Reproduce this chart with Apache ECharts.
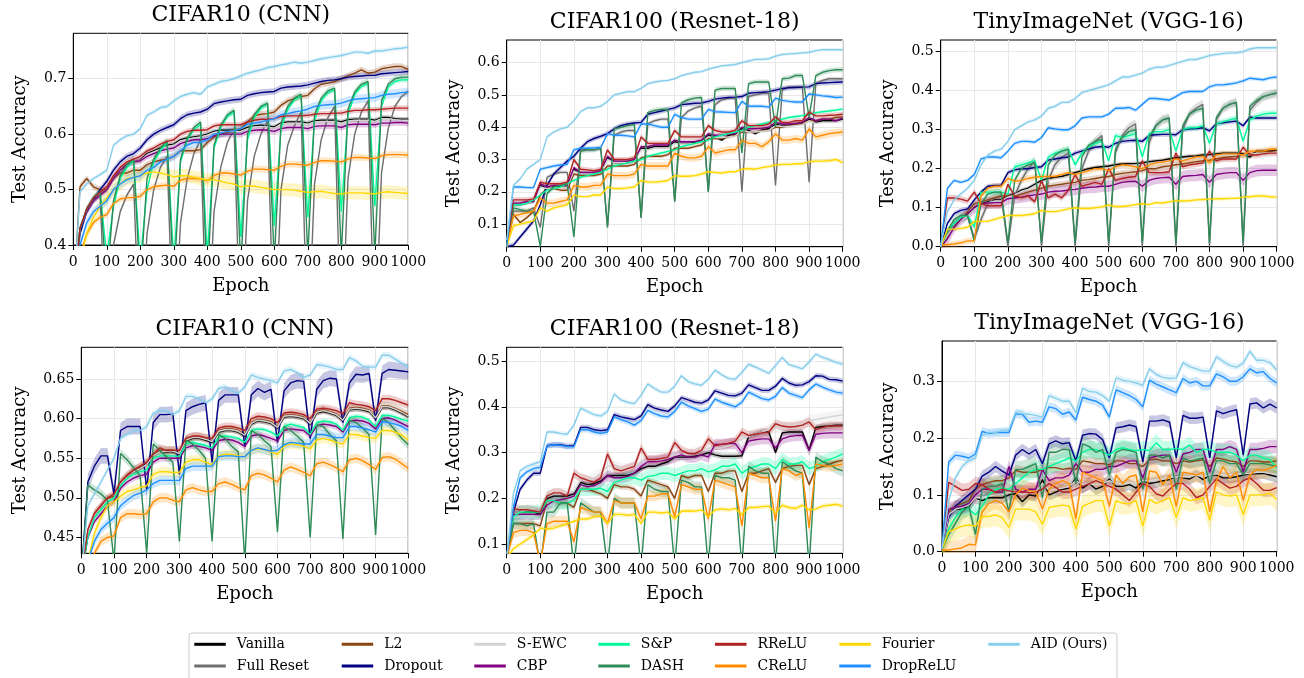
<!DOCTYPE html>
<html>
<head>
<meta charset="utf-8">
<title>Test accuracy over epochs</title>
<script src="https://cdn.jsdelivr.net/npm/echarts@6/dist/echarts.min.js"></script>
<style>
  html, body { margin: 0; padding: 0; background: #fff; }
  #chart { width: 1304px; height: 678px; }
</style>
</head>
<body>
<div id="chart"></div>
<script>
const FONT = "'DejaVu Serif', serif";

// x positions shared by every curve (one point every 20 epochs)
const EPOCHS = [0,20,40,60,80,100,120,140,160,180,200,220,240,260,280,300,320,340,360,380,
  400,420,440,460,480,500,520,540,560,580,600,620,640,660,680,700,720,740,760,780,
  800,820,840,860,880,900,920,940,960,980,1000];

const METHODS = ['Vanilla', 'Full Reset', 'L2', 'Dropout', 'S-EWC', 'CBP', 'S&P', 'DASH',
  'RReLU', 'CReLU', 'Fourier', 'DropReLU', 'AID (Ours)'];
const COLORS = ['#000000', '#6e6e6e', '#8b4513', '#000080', '#d3d3d3', '#800080', '#00fa9a', '#2e8b57',
  '#b22222', '#ff8c00', '#ffd700', '#1e90ff', '#87ceeb'];

// y tick labels per panel
const TL_Y_TICKS = [0.4, 0.5, 0.6, 0.7];
const TM_Y_TICKS = [0.1, 0.2, 0.3, 0.4, 0.5, 0.6];
const TR_Y_TICKS = [0.0, 0.1, 0.2, 0.3, 0.4, 0.5];
const BL_Y_TICKS = [0.45, 0.50, 0.55, 0.60, 0.65];
const BM_Y_TICKS = [0.1, 0.2, 0.3, 0.4, 0.5];
const BR_Y_TICKS = [0.0, 0.1, 0.2, 0.3];

// ---------- top row, CIFAR10 (CNN) ----------
const TL_VANILLA = [0.30,0.43,0.46,0.48,0.49,0.50,0.52,0.535,0.545,0.55,
  0.553,0.565,0.57,0.575,0.58,0.582,0.59,0.593,0.595,0.597,
  0.60,0.605,0.607,0.607,0.607,0.607,0.612,0.615,0.616,0.615,
  0.613,0.62,0.622,0.622,0.622,0.62,0.624,0.625,0.625,0.625,
  0.622,0.626,0.627,0.627,0.627,0.625,0.63,0.63,0.628,0.627,
  0.627];
const TL_FULL_RESET = [0.30,0.43,0.46,0.48,0.49,0.20,0.40,0.46,0.49,0.51,
  0.20,0.42,0.50,0.54,0.56,0.20,0.44,0.52,0.565,0.59,
  0.20,0.46,0.54,0.585,0.61,0.20,0.48,0.56,0.60,0.625,
  0.20,0.50,0.58,0.615,0.64,0.20,0.51,0.59,0.63,0.65,
  0.20,0.52,0.60,0.64,0.66,0.20,0.53,0.61,0.65,0.668,
  0.677];
const TL_L2 = [0.30,0.505,0.52,0.505,0.50,0.50,0.52,0.53,0.53,0.535,
  0.535,0.545,0.55,0.553,0.555,0.56,0.57,0.57,0.57,0.572,
  0.585,0.595,0.60,0.603,0.607,0.61,0.622,0.633,0.636,0.637,
  0.64,0.652,0.66,0.664,0.668,0.67,0.682,0.69,0.692,0.695,
  0.70,0.705,0.71,0.716,0.71,0.712,0.718,0.72,0.722,0.722,
  0.717];
const TL_DROPOUT = [0.30,0.42,0.46,0.48,0.50,0.515,0.535,0.55,0.56,0.565,
  0.575,0.59,0.60,0.607,0.612,0.617,0.628,0.635,0.638,0.64,
  0.645,0.655,0.658,0.66,0.662,0.663,0.67,0.673,0.675,0.676,
  0.677,0.683,0.685,0.686,0.687,0.689,0.692,0.695,0.697,0.698,
  0.70,0.703,0.704,0.705,0.706,0.706,0.709,0.71,0.711,0.712,
  0.713];
const TL_SEWC = [0.30,0.43,0.46,0.48,0.49,0.50,0.52,0.535,0.545,0.55,
  0.552,0.563,0.568,0.573,0.578,0.58,0.588,0.591,0.593,0.595,
  0.598,0.603,0.605,0.605,0.605,0.605,0.61,0.613,0.614,0.613,
  0.611,0.618,0.62,0.62,0.62,0.618,0.622,0.623,0.623,0.623,
  0.62,0.624,0.625,0.625,0.625,0.623,0.628,0.628,0.626,0.625,
  0.625];
const TL_CBP = [0.30,0.43,0.46,0.48,0.49,0.50,0.52,0.535,0.545,0.55,
  0.552,0.56,0.565,0.57,0.573,0.575,0.583,0.587,0.59,0.59,
  0.592,0.597,0.60,0.60,0.60,0.60,0.605,0.607,0.608,0.607,
  0.605,0.61,0.612,0.612,0.612,0.61,0.614,0.615,0.615,0.615,
  0.612,0.617,0.618,0.618,0.618,0.617,0.62,0.62,0.621,0.621,
  0.62];
const TL_SP = [0.30,0.43,0.465,0.485,0.495,0.38,0.47,0.52,0.54,0.552,
  0.37,0.50,0.55,0.57,0.585,0.37,0.55,0.59,0.608,0.618,
  0.38,0.575,0.612,0.632,0.64,0.415,0.59,0.63,0.647,0.654,
  0.435,0.61,0.645,0.662,0.669,0.45,0.625,0.66,0.675,0.68,
  0.46,0.635,0.672,0.686,0.692,0.47,0.65,0.685,0.695,0.698,
  0.698];
const TL_DASH = [0.30,0.43,0.465,0.485,0.497,0.33,0.48,0.525,0.545,0.555,
  0.33,0.52,0.555,0.575,0.588,0.33,0.555,0.592,0.612,0.622,
  0.33,0.58,0.616,0.635,0.643,0.36,0.60,0.635,0.65,0.656,
  0.37,0.62,0.65,0.665,0.672,0.38,0.635,0.665,0.678,0.683,
  0.38,0.645,0.676,0.69,0.695,0.38,0.66,0.69,0.70,0.703,
  0.703];
const TL_RRELU = [0.30,0.43,0.465,0.485,0.495,0.505,0.525,0.54,0.55,0.555,
  0.56,0.57,0.575,0.582,0.587,0.59,0.60,0.605,0.607,0.607,
  0.608,0.615,0.617,0.617,0.617,0.617,0.622,0.625,0.627,0.627,
  0.628,0.632,0.633,0.633,0.633,0.634,0.636,0.637,0.637,0.638,
  0.638,0.641,0.643,0.643,0.644,0.644,0.645,0.646,0.647,0.647,
  0.647];
const TL_CRELU = [0.30,0.38,0.42,0.44,0.45,0.455,0.475,0.483,0.485,0.486,
  0.488,0.50,0.505,0.507,0.508,0.506,0.517,0.52,0.52,0.519,
  0.516,0.525,0.53,0.53,0.528,0.526,0.533,0.537,0.537,0.536,
  0.535,0.542,0.546,0.546,0.545,0.544,0.549,0.552,0.552,0.551,
  0.55,0.555,0.558,0.558,0.557,0.556,0.561,0.563,0.563,0.563,
  0.562];
const TL_FOURIER = [0.30,0.37,0.42,0.45,0.47,0.485,0.50,0.51,0.52,0.522,
  0.525,0.53,0.532,0.53,0.527,0.523,0.525,0.525,0.522,0.52,
  0.517,0.518,0.515,0.512,0.51,0.505,0.507,0.506,0.504,0.502,
  0.50,0.50,0.50,0.499,0.497,0.495,0.496,0.497,0.495,0.493,
  0.492,0.494,0.494,0.494,0.493,0.492,0.495,0.496,0.495,0.494,
  0.493];
const TL_DROPRELU = [0.30,0.40,0.44,0.46,0.47,0.48,0.50,0.51,0.518,0.522,
  0.525,0.535,0.54,0.55,0.555,0.56,0.57,0.58,0.585,0.585,
  0.59,0.60,0.602,0.605,0.606,0.61,0.618,0.62,0.622,0.625,
  0.628,0.635,0.637,0.64,0.642,0.645,0.65,0.652,0.653,0.654,
  0.656,0.66,0.663,0.664,0.665,0.666,0.67,0.672,0.673,0.675,
  0.676];
const TL_AID = [0.30,0.496,0.51,0.52,0.527,0.535,0.58,0.59,0.597,0.60,
  0.61,0.634,0.64,0.648,0.65,0.66,0.668,0.672,0.675,0.672,
  0.685,0.69,0.695,0.697,0.70,0.705,0.71,0.713,0.716,0.72,
  0.722,0.725,0.727,0.73,0.728,0.73,0.733,0.736,0.738,0.74,
  0.742,0.745,0.748,0.748,0.746,0.75,0.75,0.752,0.754,0.755,
  0.757];
const TL_SPREAD = [0.004,0.004,0.006,0.006,0.004,0.006,0.005,0.006,0.005,0.006,0.012,0.008,0.004];

// ---------- top row, CIFAR100 (Resnet-18) ----------
const TM_VANILLA = [0.03,0.16,0.16,0.165,0.17,0.22,0.21,0.215,0.215,0.215,
  0.27,0.255,0.255,0.255,0.26,0.305,0.29,0.29,0.29,0.295,
  0.335,0.335,0.34,0.34,0.34,0.355,0.35,0.35,0.352,0.355,
  0.375,0.37,0.36,0.375,0.378,0.395,0.39,0.38,0.392,0.395,
  0.41,0.405,0.407,0.41,0.412,0.425,0.415,0.42,0.42,0.42,
  0.425];
const TM_FULL_RESET = [0.03,0.14,0.14,0.14,0.15,0.09,0.245,0.255,0.26,0.26,
  0.14,0.33,0.33,0.33,0.335,0.09,0.375,0.385,0.39,0.39,
  0.12,0.41,0.42,0.425,0.425,0.17,0.43,0.45,0.46,0.465,
  0.20,0.47,0.485,0.49,0.49,0.20,0.495,0.50,0.505,0.505,
  0.22,0.515,0.525,0.525,0.525,0.23,0.535,0.545,0.55,0.55,
  0.55];
const TM_L2 = [0.03,0.13,0.105,0.12,0.14,0.19,0.21,0.21,0.205,0.205,
  0.255,0.25,0.25,0.25,0.255,0.28,0.28,0.28,0.28,0.285,
  0.305,0.31,0.31,0.31,0.315,0.335,0.335,0.335,0.34,0.345,
  0.365,0.365,0.365,0.37,0.375,0.385,0.385,0.385,0.39,0.39,
  0.40,0.40,0.405,0.41,0.41,0.42,0.42,0.425,0.425,0.43,
  0.432];
const TM_DROPOUT = [0.03,0.035,0.06,0.085,0.11,0.16,0.22,0.255,0.275,0.295,
  0.31,0.335,0.355,0.365,0.372,0.38,0.395,0.405,0.41,0.413,
  0.415,0.44,0.445,0.45,0.455,0.46,0.47,0.472,0.474,0.475,
  0.48,0.487,0.49,0.492,0.493,0.495,0.505,0.507,0.508,0.51,
  0.515,0.52,0.522,0.523,0.524,0.525,0.535,0.537,0.538,0.539,
  0.54];
const TM_SEWC = [0.03,0.16,0.16,0.165,0.17,0.215,0.21,0.213,0.213,0.215,
  0.265,0.255,0.255,0.255,0.26,0.30,0.29,0.29,0.29,0.295,
  0.33,0.33,0.335,0.335,0.335,0.35,0.348,0.348,0.35,0.353,
  0.37,0.368,0.368,0.37,0.373,0.39,0.385,0.385,0.388,0.39,
  0.405,0.402,0.402,0.405,0.408,0.42,0.412,0.415,0.415,0.415,
  0.42];
const TM_CBP = [0.03,0.165,0.165,0.17,0.17,0.225,0.215,0.22,0.22,0.22,
  0.275,0.26,0.26,0.26,0.265,0.31,0.295,0.295,0.295,0.30,
  0.34,0.34,0.345,0.345,0.345,0.36,0.355,0.355,0.356,0.36,
  0.38,0.375,0.375,0.378,0.38,0.40,0.395,0.395,0.397,0.40,
  0.415,0.41,0.41,0.412,0.415,0.43,0.42,0.425,0.425,0.42,
  0.428];
const TM_SP = [0.03,0.16,0.16,0.165,0.175,0.19,0.205,0.21,0.215,0.225,
  0.235,0.245,0.25,0.255,0.26,0.27,0.28,0.285,0.29,0.295,
  0.30,0.31,0.315,0.32,0.325,0.33,0.34,0.345,0.35,0.355,
  0.36,0.37,0.375,0.38,0.385,0.39,0.40,0.405,0.41,0.415,
  0.42,0.425,0.43,0.433,0.436,0.44,0.445,0.448,0.45,0.453,
  0.456];
const TM_DASH = [0.03,0.15,0.145,0.14,0.14,0.03,0.195,0.215,0.22,0.225,
  0.06,0.325,0.33,0.33,0.335,0.09,0.395,0.40,0.405,0.408,
  0.12,0.445,0.452,0.455,0.455,0.17,0.475,0.485,0.49,0.492,
  0.20,0.515,0.52,0.52,0.52,0.32,0.535,0.54,0.54,0.54,
  0.40,0.55,0.552,0.56,0.56,0.43,0.56,0.57,0.575,0.578,
  0.578];
const TM_RRELU = [0.03,0.175,0.175,0.175,0.178,0.23,0.225,0.225,0.225,0.23,
  0.30,0.27,0.268,0.265,0.27,0.33,0.30,0.30,0.30,0.305,
  0.37,0.35,0.35,0.35,0.35,0.39,0.37,0.37,0.37,0.37,
  0.405,0.39,0.385,0.385,0.39,0.42,0.405,0.405,0.405,0.41,
  0.432,0.415,0.415,0.42,0.42,0.447,0.435,0.435,0.437,0.438,
  0.44];
const TM_CRELU = [0.03,0.125,0.13,0.135,0.14,0.18,0.165,0.165,0.17,0.175,
  0.22,0.215,0.215,0.22,0.22,0.255,0.25,0.25,0.25,0.255,
  0.285,0.28,0.28,0.28,0.28,0.32,0.31,0.305,0.305,0.31,
  0.34,0.32,0.325,0.33,0.33,0.36,0.35,0.35,0.34,0.355,
  0.38,0.36,0.36,0.365,0.36,0.395,0.37,0.375,0.38,0.383,
  0.385];
const TM_FOURIER = [0.03,0.095,0.10,0.105,0.11,0.15,0.14,0.15,0.155,0.16,
  0.19,0.185,0.185,0.19,0.19,0.215,0.21,0.21,0.212,0.215,
  0.235,0.23,0.23,0.232,0.235,0.25,0.248,0.248,0.25,0.255,
  0.262,0.26,0.258,0.262,0.262,0.27,0.272,0.27,0.275,0.278,
  0.283,0.285,0.285,0.287,0.287,0.293,0.295,0.295,0.296,0.30,
  0.29];
const TM_DROPRELU = [0.03,0.215,0.215,0.213,0.213,0.27,0.275,0.28,0.283,0.285,
  0.33,0.335,0.335,0.336,0.337,0.38,0.375,0.375,0.373,0.37,
  0.41,0.41,0.405,0.40,0.40,0.44,0.43,0.425,0.425,0.425,
  0.455,0.448,0.447,0.446,0.445,0.48,0.465,0.465,0.465,0.462,
  0.49,0.483,0.48,0.478,0.478,0.503,0.50,0.497,0.495,0.492,
  0.493];
const TM_AID = [0.05,0.22,0.24,0.27,0.285,0.30,0.37,0.385,0.395,0.40,
  0.42,0.448,0.46,0.46,0.465,0.48,0.50,0.505,0.51,0.51,
  0.52,0.535,0.54,0.543,0.545,0.55,0.56,0.565,0.57,0.572,
  0.58,0.585,0.59,0.592,0.594,0.60,0.605,0.61,0.61,0.612,
  0.62,0.625,0.627,0.628,0.63,0.632,0.637,0.64,0.64,0.64,
  0.64];
const TM_SPREAD = [0.005,0.006,0.005,0.008,0.005,0.006,0.005,0.008,0.008,0.012,0.006,0.006,0.005];

// ---------- top row, TinyImageNet (VGG-16) ----------
const TR_VANILLA = [0.0,0.03,0.05,0.07,0.08,0.10,0.11,0.115,0.12,0.12,
  0.13,0.135,0.145,0.15,0.16,0.17,0.175,0.178,0.18,0.185,
  0.19,0.195,0.20,0.203,0.205,0.207,0.21,0.212,0.213,0.213,
  0.215,0.218,0.22,0.222,0.225,0.228,0.23,0.232,0.233,0.235,
  0.236,0.238,0.24,0.24,0.24,0.238,0.23,0.245,0.245,0.245,
  0.248];
const TR_FULL_RESET = [0.0,0.03,0.06,0.075,0.08,0.02,0.07,0.11,0.125,0.13,
  0.0,0.13,0.17,0.20,0.22,0.0,0.17,0.21,0.23,0.24,
  0.0,0.20,0.245,0.27,0.285,0.0,0.24,0.285,0.305,0.315,
  0.0,0.265,0.31,0.325,0.33,0.0,0.30,0.34,0.355,0.365,
  0.0,0.325,0.355,0.365,0.37,0.0,0.35,0.37,0.385,0.39,
  0.393];
const TR_L2 = [0.0,0.03,0.05,0.07,0.09,0.11,0.115,0.12,0.125,0.13,
  0.13,0.13,0.135,0.14,0.145,0.15,0.155,0.158,0.16,0.163,
  0.165,0.17,0.172,0.175,0.178,0.18,0.185,0.188,0.19,0.192,
  0.195,0.20,0.20,0.205,0.207,0.21,0.212,0.215,0.218,0.22,
  0.222,0.225,0.228,0.23,0.232,0.235,0.238,0.24,0.243,0.245,
  0.245];
const TR_DROPOUT = [0.0,0.06,0.085,0.093,0.097,0.12,0.14,0.155,0.157,0.158,
  0.19,0.197,0.20,0.20,0.203,0.205,0.222,0.225,0.228,0.23,
  0.24,0.245,0.25,0.255,0.257,0.255,0.265,0.27,0.272,0.273,
  0.27,0.285,0.287,0.288,0.288,0.287,0.30,0.302,0.303,0.305,
  0.297,0.315,0.318,0.32,0.322,0.31,0.332,0.33,0.33,0.33,
  0.33];
const TR_SEWC = [0.0,0.03,0.05,0.068,0.078,0.097,0.107,0.112,0.117,0.118,
  0.127,0.132,0.142,0.147,0.156,0.165,0.17,0.174,0.176,0.18,
  0.185,0.19,0.195,0.198,0.20,0.202,0.205,0.207,0.208,0.209,
  0.21,0.213,0.215,0.217,0.22,0.222,0.225,0.227,0.228,0.23,
  0.231,0.233,0.235,0.235,0.236,0.235,0.236,0.24,0.24,0.24,
  0.243];
const TR_CBP = [0.0,0.02,0.05,0.07,0.085,0.10,0.11,0.112,0.113,0.113,
  0.123,0.125,0.127,0.13,0.133,0.135,0.14,0.142,0.143,0.145,
  0.147,0.15,0.152,0.153,0.155,0.155,0.16,0.165,0.167,0.168,
  0.155,0.17,0.175,0.177,0.178,0.16,0.18,0.182,0.183,0.185,
  0.165,0.185,0.188,0.19,0.19,0.17,0.19,0.195,0.196,0.196,
  0.196];
const TR_SP = [0.0,0.04,0.06,0.075,0.08,0.05,0.14,0.14,0.14,0.14,
  0.135,0.205,0.21,0.215,0.22,0.17,0.23,0.24,0.245,0.25,
  0.21,0.24,0.255,0.265,0.27,0.22,0.285,0.28,0.285,0.29,
  0.23,0.29,0.295,0.295,0.30,0.245,0.30,0.305,0.305,0.31,
  0.265,0.315,0.32,0.325,0.33,0.27,0.325,0.335,0.34,0.342,
  0.342];
const TR_DASH = [0.0,0.04,0.07,0.08,0.08,0.015,0.11,0.135,0.14,0.14,
  0.01,0.17,0.20,0.21,0.215,0.01,0.21,0.235,0.245,0.25,
  0.01,0.23,0.26,0.27,0.275,0.01,0.25,0.28,0.295,0.30,
  0.01,0.28,0.31,0.325,0.33,0.01,0.31,0.34,0.35,0.355,
  0.01,0.33,0.355,0.365,0.37,0.01,0.36,0.375,0.385,0.39,
  0.395];
const TR_RRELU = [0.0,0.125,0.125,0.122,0.117,0.14,0.11,0.105,0.105,0.105,
  0.16,0.13,0.125,0.13,0.115,0.17,0.125,0.135,0.125,0.145,
  0.185,0.155,0.16,0.165,0.16,0.20,0.17,0.175,0.178,0.18,
  0.22,0.19,0.19,0.19,0.192,0.24,0.205,0.21,0.212,0.215,
  0.245,0.22,0.225,0.225,0.225,0.255,0.235,0.235,0.238,0.24,
  0.24];
const TR_CRELU = [0.005,0.005,0.007,0.01,0.015,0.015,0.13,0.15,0.155,0.155,
  0.175,0.168,0.17,0.175,0.178,0.18,0.18,0.18,0.185,0.19,
  0.185,0.19,0.195,0.20,0.20,0.195,0.205,0.21,0.208,0.205,
  0.20,0.21,0.215,0.217,0.22,0.225,0.22,0.225,0.23,0.232,
  0.215,0.235,0.238,0.238,0.238,0.235,0.245,0.245,0.245,0.25,
  0.25];
const TR_FOURIER = [0.0,0.045,0.045,0.047,0.05,0.065,0.065,0.065,0.07,0.075,
  0.08,0.08,0.08,0.082,0.085,0.093,0.09,0.09,0.093,0.097,
  0.10,0.098,0.098,0.10,0.102,0.107,0.103,0.103,0.105,0.108,
  0.11,0.108,0.113,0.112,0.115,0.118,0.117,0.118,0.12,0.121,
  0.122,0.123,0.123,0.124,0.124,0.127,0.128,0.13,0.13,0.128,
  0.127];
const TR_DROPRELU = [0.0,0.15,0.17,0.165,0.17,0.185,0.225,0.23,0.23,0.228,
  0.245,0.265,0.27,0.27,0.268,0.28,0.305,0.302,0.30,0.30,
  0.31,0.33,0.333,0.333,0.333,0.34,0.355,0.355,0.357,0.35,
  0.365,0.38,0.38,0.378,0.376,0.385,0.395,0.398,0.398,0.398,
  0.41,0.415,0.415,0.417,0.42,0.425,0.432,0.43,0.428,0.433,
  0.435];
const TR_AID = [0.0,0.09,0.12,0.135,0.15,0.17,0.21,0.235,0.245,0.25,
  0.27,0.30,0.31,0.32,0.325,0.335,0.355,0.36,0.37,0.37,
  0.38,0.395,0.40,0.405,0.41,0.415,0.425,0.435,0.435,0.44,
  0.445,0.455,0.46,0.46,0.465,0.47,0.475,0.48,0.48,0.485,
  0.49,0.493,0.495,0.497,0.497,0.50,0.507,0.51,0.51,0.51,
  0.51];
const TR_SPREAD = [0.005,0.012,0.008,0.006,0.005,0.015,0.008,0.008,0.008,0.008,0.005,0.005,0.005];

// ---------- bottom row, CIFAR10 (CNN) ----------
const BL_VANILLA = [0.40,0.455,0.478,0.488,0.497,0.50,0.518,0.527,0.533,0.537,
  0.542,0.553,0.558,0.558,0.558,0.555,0.572,0.575,0.575,0.573,
  0.57,0.583,0.585,0.585,0.583,0.578,0.593,0.597,0.596,0.594,
  0.588,0.602,0.603,0.602,0.60,0.593,0.607,0.609,0.607,0.604,
  0.597,0.611,0.612,0.611,0.609,0.60,0.614,0.614,0.611,0.607,
  0.602];
const BL_L2 = [0.40,0.457,0.48,0.49,0.499,0.502,0.52,0.529,0.535,0.539,
  0.544,0.555,0.56,0.56,0.56,0.557,0.574,0.577,0.577,0.575,
  0.572,0.585,0.587,0.587,0.585,0.58,0.595,0.599,0.598,0.596,
  0.59,0.604,0.605,0.604,0.602,0.595,0.609,0.611,0.609,0.606,
  0.599,0.613,0.614,0.613,0.611,0.602,0.616,0.616,0.613,0.609,
  0.605];
const BL_DROPOUT = [0.40,0.52,0.54,0.553,0.553,0.505,0.585,0.59,0.59,0.59,
  0.51,0.595,0.605,0.605,0.606,0.53,0.61,0.615,0.618,0.62,
  0.545,0.623,0.63,0.63,0.63,0.565,0.63,0.638,0.633,0.637,
  0.57,0.635,0.645,0.648,0.647,0.575,0.637,0.648,0.651,0.65,
  0.595,0.645,0.656,0.655,0.657,0.597,0.657,0.662,0.661,0.66,
  0.659];
const BL_SEWC = [0.40,0.455,0.478,0.488,0.497,0.50,0.518,0.527,0.533,0.537,
  0.542,0.553,0.558,0.559,0.559,0.556,0.573,0.576,0.576,0.574,
  0.571,0.584,0.586,0.586,0.584,0.579,0.594,0.598,0.597,0.595,
  0.589,0.603,0.604,0.603,0.601,0.594,0.608,0.61,0.608,0.605,
  0.598,0.612,0.613,0.612,0.61,0.601,0.615,0.615,0.612,0.608,
  0.603];
const BL_CBP = [0.40,0.45,0.47,0.48,0.49,0.495,0.512,0.52,0.525,0.528,
  0.53,0.545,0.55,0.55,0.55,0.55,0.563,0.566,0.565,0.563,
  0.56,0.572,0.574,0.573,0.57,0.565,0.578,0.58,0.578,0.575,
  0.572,0.585,0.587,0.586,0.585,0.578,0.591,0.593,0.592,0.59,
  0.583,0.597,0.598,0.597,0.594,0.587,0.60,0.601,0.598,0.594,
  0.59];
const BL_SP = [0.40,0.45,0.475,0.485,0.495,0.50,0.515,0.525,0.53,0.533,
  0.535,0.55,0.553,0.553,0.553,0.552,0.568,0.57,0.568,0.566,
  0.563,0.577,0.578,0.577,0.575,0.57,0.585,0.587,0.586,0.583,
  0.578,0.59,0.593,0.591,0.589,0.58,0.595,0.597,0.596,0.593,
  0.585,0.601,0.603,0.602,0.598,0.59,0.604,0.604,0.602,0.599,
  0.597];
const BL_DASH = [0.40,0.516,0.51,0.505,0.497,0.42,0.556,0.548,0.538,0.528,
  0.43,0.568,0.56,0.552,0.545,0.445,0.573,0.568,0.56,0.55,
  0.445,0.58,0.575,0.565,0.558,0.42,0.585,0.58,0.572,0.565,
  0.457,0.59,0.585,0.578,0.57,0.45,0.592,0.59,0.58,0.572,
  0.448,0.598,0.595,0.588,0.58,0.453,0.60,0.595,0.585,0.575,
  0.567];
const BL_RRELU = [0.40,0.46,0.48,0.49,0.50,0.505,0.52,0.528,0.535,0.54,
  0.545,0.555,0.563,0.56,0.56,0.56,0.575,0.578,0.578,0.576,
  0.575,0.588,0.59,0.59,0.588,0.585,0.60,0.603,0.602,0.60,
  0.595,0.607,0.608,0.607,0.605,0.60,0.612,0.613,0.612,0.61,
  0.606,0.62,0.618,0.617,0.615,0.61,0.625,0.625,0.623,0.62,
  0.617];
const BL_CRELU = [0.38,0.40,0.43,0.445,0.45,0.452,0.475,0.48,0.48,0.479,
  0.48,0.495,0.50,0.50,0.497,0.495,0.51,0.513,0.51,0.508,
  0.508,0.518,0.52,0.517,0.513,0.51,0.528,0.531,0.529,0.525,
  0.52,0.535,0.539,0.536,0.532,0.528,0.543,0.545,0.542,0.538,
  0.533,0.548,0.55,0.547,0.542,0.536,0.551,0.552,0.549,0.543,
  0.537];
const BL_FOURIER = [0.38,0.42,0.455,0.475,0.49,0.495,0.502,0.508,0.51,0.513,
  0.515,0.53,0.533,0.533,0.532,0.532,0.545,0.548,0.548,0.545,
  0.542,0.553,0.555,0.555,0.553,0.552,0.56,0.562,0.561,0.558,
  0.555,0.565,0.568,0.567,0.565,0.562,0.573,0.575,0.573,0.57,
  0.568,0.58,0.58,0.578,0.576,0.575,0.585,0.585,0.583,0.579,
  0.573];
const BL_DROPRELU = [0.38,0.42,0.445,0.46,0.468,0.475,0.49,0.497,0.503,0.506,
  0.51,0.518,0.522,0.522,0.522,0.522,0.537,0.54,0.54,0.54,
  0.54,0.552,0.553,0.553,0.552,0.552,0.56,0.563,0.561,0.559,
  0.56,0.567,0.57,0.569,0.568,0.568,0.58,0.58,0.578,0.576,
  0.576,0.59,0.59,0.588,0.586,0.583,0.596,0.595,0.593,0.59,
  0.585];
const BL_AID = [0.40,0.49,0.505,0.52,0.535,0.55,0.575,0.58,0.585,0.585,
  0.59,0.607,0.61,0.61,0.605,0.61,0.628,0.628,0.625,0.62,
  0.625,0.638,0.64,0.635,0.632,0.64,0.655,0.652,0.65,0.648,
  0.645,0.66,0.662,0.658,0.652,0.655,0.668,0.667,0.665,0.662,
  0.662,0.677,0.673,0.666,0.665,0.665,0.68,0.68,0.675,0.67,
  0.665];
const BL_SPREAD = [0.003,0,0.005,0.01,0.004,0.004,0.003,0.006,0.005,0.006,0.006,0.006,0.004];

// ---------- bottom row, CIFAR100 (Resnet-18) ----------
const BM_VANILLA = [0.07,0.165,0.17,0.17,0.17,0.165,0.20,0.205,0.205,0.205,
  0.21,0.235,0.23,0.232,0.238,0.25,0.25,0.25,0.25,0.255,
  0.265,0.27,0.27,0.275,0.28,0.29,0.29,0.29,0.292,0.295,
  0.30,0.295,0.292,0.292,0.292,0.293,0.335,0.34,0.345,0.345,
  0.30,0.343,0.345,0.345,0.345,0.305,0.355,0.357,0.358,0.36,
  0.36];
const BM_L2 = [0.07,0.145,0.145,0.145,0.145,0.14,0.195,0.195,0.19,0.19,
  0.18,0.22,0.22,0.215,0.21,0.20,0.23,0.225,0.225,0.22,
  0.205,0.24,0.235,0.23,0.225,0.20,0.25,0.245,0.25,0.25,
  0.215,0.255,0.255,0.26,0.26,0.215,0.255,0.255,0.26,0.265,
  0.235,0.265,0.27,0.272,0.272,0.23,0.265,0.27,0.275,0.28,
  0.283];
const BM_DROPOUT = [0.07,0.17,0.22,0.24,0.255,0.255,0.315,0.317,0.317,0.314,
  0.315,0.355,0.355,0.35,0.348,0.35,0.383,0.378,0.375,0.372,
  0.38,0.405,0.397,0.393,0.39,0.402,0.42,0.415,0.41,0.408,
  0.415,0.435,0.43,0.425,0.424,0.43,0.448,0.442,0.436,0.436,
  0.445,0.462,0.452,0.447,0.448,0.455,0.468,0.467,0.46,0.459,
  0.456];
const BM_SEWC = [0.07,0.165,0.17,0.175,0.175,0.17,0.205,0.21,0.21,0.212,
  0.215,0.24,0.24,0.245,0.255,0.27,0.27,0.265,0.265,0.27,
  0.28,0.28,0.28,0.285,0.29,0.295,0.295,0.297,0.30,0.303,
  0.31,0.31,0.31,0.315,0.32,0.33,0.335,0.34,0.345,0.35,
  0.355,0.355,0.357,0.36,0.362,0.37,0.372,0.375,0.378,0.38,
  0.383];
const BM_CBP = [0.07,0.165,0.165,0.165,0.165,0.165,0.185,0.195,0.197,0.20,
  0.205,0.23,0.225,0.228,0.235,0.25,0.245,0.245,0.248,0.255,
  0.27,0.28,0.28,0.282,0.285,0.29,0.295,0.29,0.29,0.295,
  0.29,0.318,0.318,0.32,0.32,0.30,0.325,0.328,0.33,0.33,
  0.31,0.33,0.335,0.337,0.338,0.305,0.34,0.342,0.343,0.343,
  0.343];
const BM_SP = [0.07,0.16,0.17,0.17,0.17,0.17,0.195,0.195,0.19,0.19,
  0.195,0.22,0.22,0.22,0.222,0.215,0.235,0.24,0.245,0.245,
  0.24,0.248,0.25,0.255,0.255,0.25,0.255,0.26,0.26,0.265,
  0.258,0.262,0.27,0.27,0.275,0.255,0.265,0.27,0.275,0.275,
  0.265,0.285,0.275,0.275,0.28,0.265,0.27,0.28,0.285,0.29,
  0.297];
const BM_DASH = [0.07,0.145,0.145,0.14,0.145,0.05,0.17,0.17,0.19,0.19,
  0.05,0.19,0.18,0.17,0.17,0.05,0.20,0.19,0.19,0.19,
  0.05,0.23,0.22,0.215,0.215,0.05,0.24,0.235,0.225,0.225,
  0.05,0.25,0.245,0.245,0.24,0.05,0.27,0.26,0.255,0.255,
  0.05,0.28,0.27,0.26,0.255,0.05,0.29,0.28,0.275,0.265,
  0.26];
const BM_RRELU = [0.07,0.178,0.175,0.175,0.173,0.17,0.205,0.212,0.212,0.205,
  0.255,0.245,0.24,0.235,0.245,0.297,0.265,0.26,0.265,0.27,
  0.31,0.285,0.285,0.287,0.29,0.322,0.305,0.298,0.298,0.305,
  0.33,0.315,0.318,0.32,0.325,0.345,0.337,0.34,0.343,0.345,
  0.363,0.358,0.356,0.357,0.36,0.367,0.35,0.355,0.358,0.358,
  0.358];
const BM_CRELU = [0.07,0.125,0.13,0.13,0.125,0.06,0.145,0.15,0.15,0.15,
  0.105,0.18,0.175,0.17,0.17,0.145,0.195,0.19,0.19,0.19,
  0.155,0.205,0.205,0.21,0.21,0.16,0.23,0.225,0.22,0.22,
  0.155,0.24,0.235,0.23,0.225,0.14,0.255,0.25,0.245,0.245,
  0.15,0.265,0.26,0.25,0.255,0.135,0.275,0.272,0.27,0.272,
  0.275];
const BM_FOURIER = [0.07,0.09,0.10,0.11,0.12,0.135,0.133,0.135,0.14,0.145,
  0.15,0.155,0.155,0.16,0.162,0.145,0.165,0.165,0.163,0.165,
  0.145,0.17,0.17,0.168,0.17,0.155,0.172,0.173,0.172,0.175,
  0.16,0.175,0.177,0.175,0.178,0.165,0.18,0.18,0.182,0.183,
  0.168,0.185,0.18,0.178,0.185,0.175,0.177,0.183,0.185,0.187,
  0.183];
const BM_DROPRELU = [0.07,0.18,0.245,0.258,0.265,0.268,0.315,0.317,0.316,0.313,
  0.313,0.35,0.35,0.345,0.342,0.345,0.378,0.372,0.367,0.36,
  0.37,0.392,0.385,0.38,0.378,0.39,0.41,0.402,0.396,0.39,
  0.395,0.417,0.41,0.405,0.40,0.41,0.432,0.425,0.418,0.415,
  0.423,0.442,0.43,0.425,0.42,0.437,0.45,0.443,0.437,0.432,
  0.43];
const BM_AID = [0.07,0.21,0.26,0.27,0.275,0.28,0.345,0.345,0.342,0.34,
  0.36,0.397,0.39,0.383,0.38,0.39,0.428,0.415,0.41,0.407,
  0.425,0.45,0.44,0.432,0.432,0.445,0.468,0.455,0.45,0.447,
  0.46,0.48,0.47,0.462,0.46,0.475,0.493,0.487,0.48,0.473,
  0.49,0.508,0.492,0.488,0.483,0.498,0.515,0.508,0.503,0.497,
  0.493];
const BM_SPREAD = [0.006,0,0.006,0.006,0.012,0.012,0.015,0.012,0.01,0.012,0.005,0.006,0.005];

// ---------- bottom row, TinyImageNet (VGG-16) ----------
const BR_VANILLA = [0.005,0.065,0.075,0.075,0.08,0.095,0.09,0.095,0.095,0.095,
  0.10,0.102,0.088,0.10,0.098,0.127,0.10,0.105,0.11,0.112,
  0.13,0.112,0.12,0.11,0.115,0.128,0.115,0.115,0.118,0.112,
  0.125,0.12,0.122,0.125,0.127,0.133,0.13,0.128,0.135,0.127,
  0.135,0.135,0.13,0.13,0.132,0.135,0.137,0.137,0.138,0.135,
  0.132];
const BR_L2 = [0.005,0.07,0.08,0.085,0.09,0.11,0.118,0.122,0.125,0.125,
  0.13,0.143,0.14,0.14,0.14,0.145,0.148,0.148,0.145,0.147,
  0.145,0.16,0.158,0.155,0.155,0.153,0.16,0.16,0.155,0.155,
  0.15,0.162,0.163,0.16,0.16,0.155,0.16,0.158,0.16,0.162,
  0.15,0.165,0.163,0.16,0.158,0.15,0.16,0.16,0.158,0.158,
  0.16];
const BR_DROPOUT = [0.005,0.06,0.08,0.09,0.10,0.11,0.133,0.14,0.15,0.142,
  0.135,0.17,0.18,0.172,0.18,0.155,0.19,0.195,0.19,0.192,
  0.16,0.205,0.208,0.207,0.197,0.165,0.218,0.22,0.223,0.22,
  0.158,0.23,0.23,0.232,0.228,0.165,0.24,0.235,0.235,0.237,
  0.165,0.248,0.243,0.247,0.25,0.17,0.26,0.262,0.253,0.26,
  0.253];
const BR_SEWC = [0.005,0.065,0.075,0.078,0.082,0.095,0.095,0.098,0.10,0.10,
  0.105,0.105,0.10,0.105,0.105,0.12,0.108,0.11,0.112,0.115,
  0.125,0.118,0.12,0.118,0.12,0.125,0.12,0.12,0.122,0.12,
  0.125,0.125,0.127,0.128,0.13,0.132,0.132,0.132,0.135,0.132,
  0.135,0.137,0.135,0.135,0.136,0.137,0.138,0.14,0.14,0.138,
  0.136];
const BR_CBP = [0.005,0.075,0.078,0.08,0.085,0.10,0.11,0.11,0.105,0.105,
  0.15,0.11,0.105,0.11,0.11,0.145,0.125,0.13,0.13,0.135,
  0.155,0.14,0.14,0.145,0.145,0.15,0.15,0.155,0.16,0.16,
  0.13,0.165,0.168,0.17,0.17,0.14,0.172,0.175,0.18,0.18,
  0.14,0.18,0.18,0.185,0.18,0.14,0.18,0.18,0.182,0.185,
  0.185];
const BR_SP = [0.005,0.04,0.06,0.075,0.075,0.065,0.08,0.10,0.11,0.112,
  0.11,0.12,0.13,0.14,0.145,0.145,0.15,0.155,0.16,0.165,
  0.16,0.175,0.18,0.18,0.175,0.17,0.18,0.183,0.18,0.178,
  0.18,0.178,0.192,0.18,0.18,0.182,0.18,0.188,0.175,0.18,
  0.18,0.175,0.175,0.175,0.17,0.16,0.17,0.17,0.165,0.162,
  0.148];
const BR_DASH = [0.005,0.03,0.05,0.07,0.08,0.03,0.11,0.115,0.115,0.12,
  0.07,0.145,0.145,0.15,0.155,0.095,0.175,0.175,0.18,0.18,
  0.12,0.19,0.185,0.175,0.18,0.135,0.175,0.18,0.178,0.175,
  0.11,0.17,0.17,0.165,0.17,0.11,0.165,0.16,0.162,0.165,
  0.12,0.16,0.16,0.155,0.155,0.135,0.155,0.155,0.155,0.153,
  0.15];
const BR_RRELU = [0.005,0.122,0.115,0.108,0.11,0.12,0.118,0.11,0.105,0.11,
  0.107,0.105,0.105,0.104,0.105,0.11,0.12,0.113,0.105,0.105,
  0.11,0.115,0.12,0.125,0.12,0.115,0.11,0.10,0.09,0.105,
  0.12,0.115,0.102,0.098,0.11,0.12,0.12,0.11,0.095,0.10,
  0.115,0.128,0.12,0.112,0.115,0.125,0.13,0.12,0.108,0.108,
  0.113];
const BR_CRELU = [0.003,0.003,0.005,0.007,0.013,0.012,0.07,0.085,0.09,0.085,
  0.07,0.10,0.112,0.108,0.105,0.075,0.11,0.12,0.125,0.12,
  0.058,0.14,0.135,0.13,0.125,0.08,0.135,0.12,0.132,0.135,
  0.07,0.142,0.14,0.118,0.135,0.08,0.14,0.138,0.135,0.14,
  0.07,0.125,0.15,0.13,0.14,0.09,0.135,0.145,0.143,0.147,
  0.152];
const BR_FOURIER = [0.005,0.035,0.04,0.045,0.047,0.045,0.062,0.062,0.065,0.06,
  0.043,0.075,0.075,0.075,0.07,0.048,0.078,0.08,0.082,0.08,
  0.04,0.08,0.085,0.09,0.09,0.045,0.09,0.085,0.085,0.09,
  0.045,0.092,0.085,0.09,0.095,0.06,0.095,0.09,0.092,0.095,
  0.055,0.105,0.10,0.098,0.10,0.065,0.10,0.10,0.10,0.103,
  0.092];
const BR_DROPRELU = [0.005,0.158,0.17,0.168,0.165,0.172,0.212,0.208,0.21,0.21,
  0.21,0.243,0.242,0.228,0.23,0.228,0.255,0.252,0.242,0.246,
  0.232,0.272,0.268,0.265,0.258,0.237,0.285,0.28,0.275,0.268,
  0.255,0.302,0.295,0.29,0.285,0.28,0.305,0.297,0.30,0.292,
  0.292,0.313,0.308,0.30,0.30,0.308,0.322,0.315,0.317,0.305,
  0.297];
const BR_AID = [0.005,0.09,0.13,0.15,0.16,0.165,0.205,0.21,0.21,0.213,
  0.215,0.245,0.243,0.242,0.24,0.237,0.275,0.27,0.265,0.265,
  0.245,0.288,0.282,0.281,0.275,0.265,0.306,0.302,0.30,0.297,
  0.293,0.322,0.312,0.307,0.305,0.306,0.333,0.326,0.322,0.318,
  0.318,0.343,0.335,0.328,0.325,0.332,0.353,0.337,0.337,0.333,
  0.32];
const BR_SPREAD = [0.01,0,0.01,0.01,0.01,0.012,0.015,0.015,0.012,0.015,0.02,0.008,0.006];

// panel layout: box = [left, top, width, height] in px
const PANELS = [
  { title: 'CIFAR10 (CNN)', box: [73.3, 33.3, 335, 211.7], yRange: [0.4, 0.782], yTicks: TL_Y_TICKS, digits: 1, nameGap: 44,
    lines: [TL_VANILLA, TL_FULL_RESET, TL_L2, TL_DROPOUT, TL_SEWC, TL_CBP, TL_SP, TL_DASH, TL_RRELU, TL_CRELU, TL_FOURIER, TL_DROPRELU, TL_AID],
    spread: TL_SPREAD },
  { title: 'CIFAR100 (Resnet-18)', box: [506.7, 40, 336, 206.7], yRange: [0.03, 0.67], yTicks: TM_Y_TICKS, digits: 1, nameGap: 43,
    lines: [TM_VANILLA, TM_FULL_RESET, TM_L2, TM_DROPOUT, TM_SEWC, TM_CBP, TM_SP, TM_DASH, TM_RRELU, TM_CRELU, TM_FOURIER, TM_DROPRELU, TM_AID],
    spread: TM_SPREAD },
  { title: 'TinyImageNet (VGG-16)', box: [940.7, 40, 336, 206.7], yRange: [0, 0.53], yTicks: TR_Y_TICKS, digits: 1, nameGap: 43,
    lines: [TR_VANILLA, TR_FULL_RESET, TR_L2, TR_DROPOUT, TR_SEWC, TR_CBP, TR_SP, TR_DASH, TR_RRELU, TR_CRELU, TR_FOURIER, TR_DROPRELU, TR_AID],
    spread: TR_SPREAD },
  { title: 'CIFAR10 (CNN)', box: [81.3, 347.3, 327, 206], yRange: [0.43, 0.69], yTicks: BL_Y_TICKS, digits: 2, nameGap: 52,
    lines: [BL_VANILLA, null, BL_L2, BL_DROPOUT, BL_SEWC, BL_CBP, BL_SP, BL_DASH, BL_RRELU, BL_CRELU, BL_FOURIER, BL_DROPRELU, BL_AID],
    spread: BL_SPREAD },
  { title: 'CIFAR100 (Resnet-18)', box: [506.7, 347.3, 336, 206], yRange: [0.08, 0.53], yTicks: BM_Y_TICKS, digits: 1, nameGap: 43,
    lines: [BM_VANILLA, null, BM_L2, BM_DROPOUT, BM_SEWC, BM_CBP, BM_SP, BM_DASH, BM_RRELU, BM_CRELU, BM_FOURIER, BM_DROPRELU, BM_AID],
    spread: BM_SPREAD },
  { title: 'TinyImageNet (VGG-16)', box: [942, 341, 334.7, 210.7], yRange: [0, 0.371], yTicks: BR_Y_TICKS, digits: 1, nameGap: 45,
    lines: [BR_VANILLA, null, BR_L2, BR_DROPOUT, BR_SEWC, BR_CBP, BR_SP, BR_DASH, BR_RRELU, BR_CRELU, BR_FOURIER, BR_DROPRELU, BR_AID],
    spread: BR_SPREAD }
];

// legend columns (x of the line swatch), two entries per column
const LEGEND_X = [194.3, 341.7, 474.3, 598.3, 715, 839.3, 988.3];

const chart = echarts.init(document.getElementById('chart'), null, { renderer: 'canvas' });

const option = {
  animation: false,
  backgroundColor: '#fff',
  grid: [], xAxis: [], yAxis: [], series: [], legend: [],
  graphic: [
    { type: 'rect', z: 0, shape: { x: 189, y: 633, width: 928, height: 50, r: 3 },
      style: { fill: '#fff', stroke: '#cccccc', lineWidth: 1 } }
  ]
};

PANELS.forEach((p, i) => {
  const [left, top, width, height] = p.box;

  option.graphic.push({
    type: 'text', z: 10, x: left + width / 2, y: top - 18,
    style: { text: p.title, font: "22px 'DejaVu Serif', serif", fill: '#000', align: 'center', verticalAlign: 'middle' }
  });

  option.grid.push({ left, top, width, height, show: true, borderColor: '#000', borderWidth: 1, backgroundColor: 'transparent' });

  // epochs as categories; every 5th point (100 epochs) gets a tick, label and grid line
  option.xAxis.push({
    type: 'category', gridIndex: i, data: EPOCHS, boundaryGap: false,
    name: 'Epoch', nameLocation: 'middle', nameGap: 32,
    nameTextStyle: { fontFamily: FONT, fontSize: 18, color: '#000' },
    axisLine: { lineStyle: { color: '#000', width: 1 } },
    axisTick: { interval: 4, length: 5, lineStyle: { color: '#000' } },
    axisLabel: { interval: 4, margin: 10, fontFamily: FONT, fontSize: 14, color: '#000' },
    splitLine: { show: true, interval: 4, lineStyle: { color: '#e8e8e8', width: 1 } }
  });

  option.yAxis.push({
    type: 'value', gridIndex: i, min: p.yRange[0], max: p.yRange[1], splitNumber: 5,
    name: 'Test Accuracy', nameLocation: 'middle', nameGap: p.nameGap,
    nameTextStyle: { fontFamily: FONT, fontSize: 18, color: '#000' },
    axisLine: { show: true, lineStyle: { color: '#000', width: 1 } },
    axisTick: { show: true, length: 5, customValues: p.yTicks, lineStyle: { color: '#000' } },
    axisLabel: {
      margin: 7, fontFamily: FONT, fontSize: 14, color: '#000', customValues: p.yTicks,
      formatter: v => p.yTicks.some(t => Math.abs(t - v) < 1e-6) ? v.toFixed(p.digits) : ''
    },
    splitLine: { show: true, lineStyle: { color: '#e8e8e8', width: 1 } }
  });

  p.lines.forEach((vals, k) => {
    if (!vals) return;
    const color = COLORS[k];
    const s = p.spread[k];
    // shaded spread: invisible lower edge + stacked band on top of it
    if (s > 0) {
      const stack = 'band-' + i + '-' + k;
      option.series.push({
        type: 'line', xAxisIndex: i, yAxisIndex: i, stack, stackStrategy: 'all',
        data: vals.map(v => v - s),
        symbol: 'none', lineStyle: { opacity: 0 }, silent: true, z: 1
      });
      option.series.push({
        type: 'line', xAxisIndex: i, yAxisIndex: i, stack, stackStrategy: 'all',
        data: vals.map(() => 2 * s),
        symbol: 'none', lineStyle: { opacity: 0 }, areaStyle: { color, opacity: 0.22 }, silent: true, z: 1
      });
    }
    option.series.push({
      name: METHODS[k], type: 'line', xAxisIndex: i, yAxisIndex: i,
      data: vals,
      symbol: 'none', silent: true, z: 2,
      lineStyle: { color, width: 1.4 }, itemStyle: { color }
    });
  });
});

LEGEND_X.forEach((x, c) => {
  option.legend.push({
    orient: 'vertical', left: x, top: 636.3, padding: 0, itemGap: 5.7,
    itemWidth: 31.5, itemHeight: 3, icon: 'rect', selectedMode: false, z: 5,
    data: METHODS.slice(c * 2, c * 2 + 2),
    textStyle: { fontFamily: FONT, fontSize: 14, color: '#000', lineHeight: 16, padding: [0, 0, 0, 6] }
  });
});

chart.setOption(option);
</script>
</body>
</html>
